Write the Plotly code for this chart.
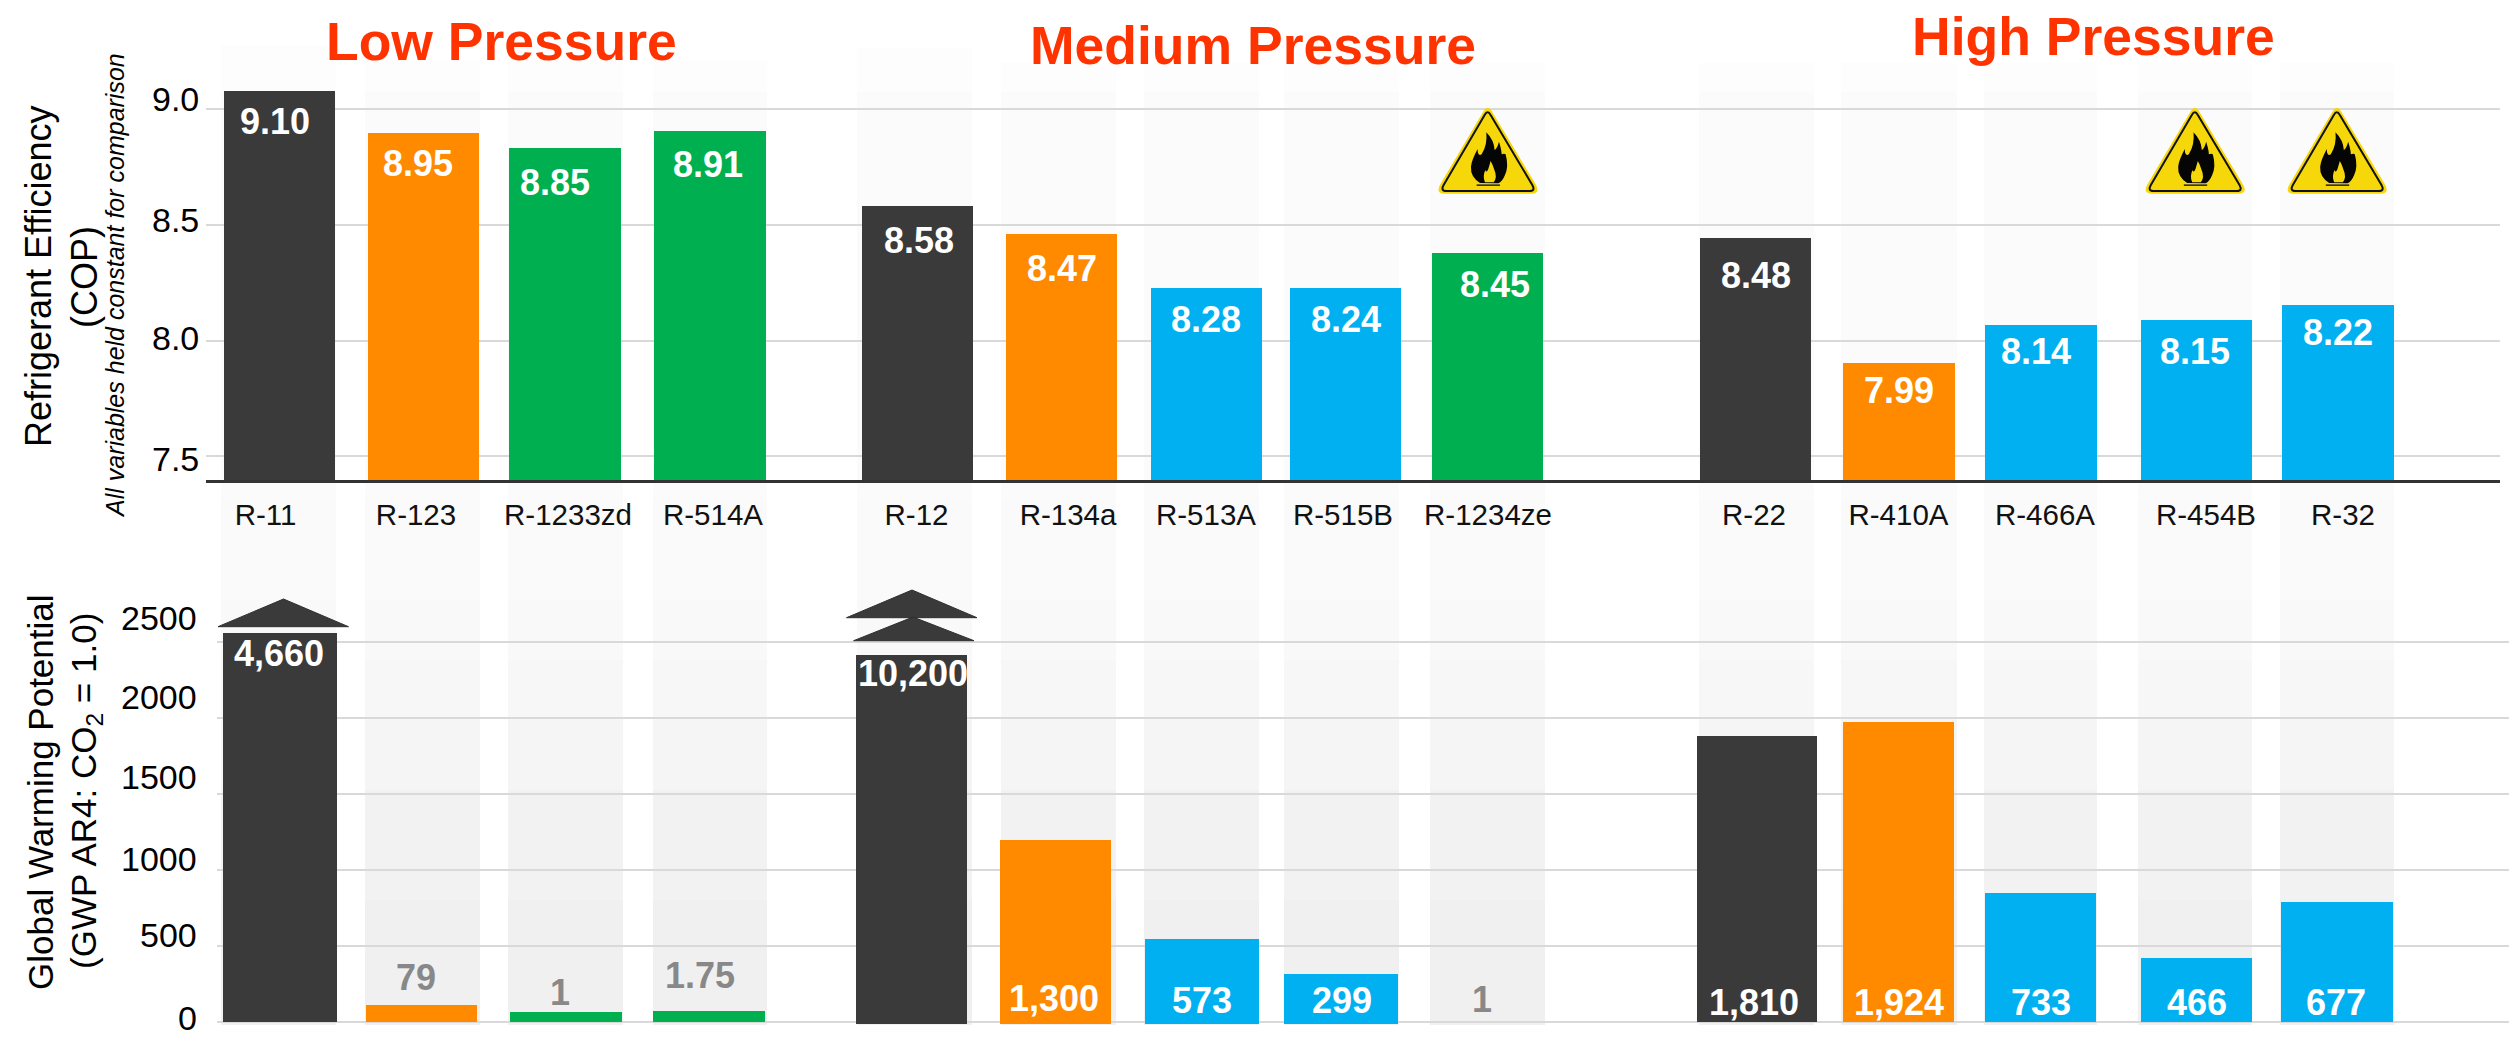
import plotly.graph_objects as go

# ---------- data ----------
refrigerants = ["R-11", "R-123", "R-1233zd", "R-514A", "R-12", "R-134a", "R-513A", "R-515B",
                "R-1234ze", "R-22", "R-410A", "R-466A", "R-454B", "R-32"]
cop_heights = [9.076, 8.895, 8.83, 8.904, 8.58, 8.459, 8.226, 8.226, 8.377, 8.442, 7.903, 8.067, 8.088, 8.153]
cop_labels = ["9.10", "8.95", "8.85", "8.91", "8.58", "8.47", "8.28", "8.24", "8.45", "8.48", "7.99", "8.14", "8.15", "8.22"]
gwp_heights = [2561, 110, 64, 70, 2415, 1197, 545, 314, 0, 1881, 1974, 848, 419, 788]
gwp_labels = ["4,660", "79", "1", "1.75", "10,200", "1,300", "573", "299", "1", "1,810", "1,924", "733", "466", "677"]
cop_ticks = [7.5, 8.0, 8.5, 9.0]
gwp_ticks = [0, 500, 1000, 1500, 2000, 2500]
group_titles = ["Low Pressure", "Medium Pressure", "High Pressure"]

# ---------- styles / layout geometry ----------
W, H = 2509, 1038
FONT = "Liberation Sans"
DARK, ORANGE, GREEN, BLUE = "#3a3a3a", "#ff8a00", "#00b050", "#00b0f0"
RED = "#ff3300"
colors = [DARK, ORANGE, GREEN, GREEN, DARK, ORANGE, BLUE, BLUE, GREEN, DARK, ORANGE, BLUE, BLUE, BLUE]

cop_left = [224, 368, 509, 654, 862, 1006, 1151, 1290, 1432, 1700, 1843, 1985, 2141, 2282]
cop_right = [335, 479, 621, 766, 973, 1117, 1262, 1401, 1543, 1811, 1955, 2097, 2252, 2394]
gwp_left = [223, 366, 510, 653, 856, 1000, 1145, 1284, 1431, 1697, 1843, 1985, 2141, 2281]
gwp_right = [337, 477, 622, 765, 967, 1111, 1259, 1398, 1545, 1817, 1954, 2096, 2252, 2393]
gwp_base = [0, 0, 0, 0, -16, -16, -16, -16, 0, 0, 0, 0, 0, 0]
band_left = [221, 365, 508, 652.5, 857, 1001, 1144, 1284, 1430, 1698.5, 1841, 1983.5, 2137.5, 2279.5]
band_right = [336, 480, 622.5, 767, 972, 1116, 1259, 1399, 1545, 1814, 1956.5, 2097, 2252, 2394]
band_top = [45, 60, 60, 60, 48, 63, 63, 63, 63, 63, 63, 63, 63, 63]
band_bottom = 1025
band_levels = [(0, 92, "#fdfdfd"), (92, 500, "#fbfbfb"), (500, 600, "#fafafa"), (600, 660, "#f9f9f9"),
               (660, 720, "#f7f7f7"), (720, 790, "#f5f5f5"), (790, 900, "#f2f2f2"), (900, band_bottom, "#f0f0f0")]
label_x = [265.6, 416, 568, 713, 916.5, 1068, 1206, 1343, 1488, 1754, 1898.5, 2045, 2206, 2343]

cop_px = [(275, 122), (418, 163), (555, 183), (708, 164), (919, 240), (1062, 268), (1206, 320), (1346, 320),
          (1495, 284), (1756, 275), (1899, 390), (2036, 351), (2195, 351), (2337.5, 332)]
gwp_px = [(279, 653), (416, 977), (560, 992), (700, 975), (913, 673), (1054, 998), (1202, 1000), (1342, 1000),
          (1482, 999), (1754, 1002), (1899, 1002), (2041, 1002), (2197, 1002), (2336, 1002)]
title_px = [(501, 41), (1253, 46), (2093, 37)]
cop_tick_shift = [-3, 3, 5, 10]
gwp_tick_shift = [4, 11, 11, 17, 21, 24]

def cop_at(py):
    return 9 - (py - 108.7) / 231.8

def gwp_at(py):
    return (1021.7 - py) / 75.93 * 500

def center(a, b):
    return [(i + j) / 2 for i, j in zip(a, b)]

def width(a, b):
    return [j - i for i, j in zip(a, b)]

fig = go.Figure()

# background bands (first subplot, so the grid of the later subplots lies over them)
for start, end, col in band_levels:
    bases = [max(start, t) for t in band_top]
    fig.add_trace(go.Bar(x=center(band_left, band_right), width=width(band_left, band_right),
                         base=bases, y=[end - b for b in bases], marker=dict(color=col, line_width=0),
                         xaxis="x", yaxis="y", showlegend=False, hoverinfo="skip"))

fig.add_trace(go.Bar(x=center(cop_left, cop_right), width=width(cop_left, cop_right),
                     y=[v - cop_at(480) for v in cop_heights], base=cop_at(480),
                     marker=dict(color=colors, line_width=0), xaxis="x2", yaxis="y2",
                     showlegend=False, customdata=refrigerants, hovertemplate="%{customdata}<extra></extra>"))
gwp_bottoms = [b if v > 0 else 0 for v, b in zip(gwp_heights, gwp_base)]
fig.add_trace(go.Bar(x=center(gwp_left, gwp_right), width=width(gwp_left, gwp_right),
                     y=[v - b for v, b in zip(gwp_heights, gwp_bottoms)], base=gwp_bottoms,
                     marker=dict(color=colors, line_width=0), xaxis="x3", yaxis="y3",
                     showlegend=False, customdata=refrigerants, hovertemplate="%{customdata}<extra></extra>"))

ann = []

def txt(px, py, s, size, color="#000000", bold=False, italic=False, angle=0):
    t = f"<b>{s}</b>" if bold else s
    t = f"<i>{t}</i>" if italic else t
    ann.append(dict(x=px / W, y=1 - py / H, xref="paper", yref="paper", text=t, showarrow=False,
                    xanchor="center", yanchor="middle", textangle=angle,
                    font=dict(family=FONT, size=size, color=color)))

for (px, py), s in zip(title_px, group_titles):
    txt(px, py, s, 53.5, RED, bold=True)
for (px, py), s in zip(cop_px, cop_labels):
    txt(px, py, s, 36, "#ffffff", bold=True)
for (px, py), s in zip(gwp_px, gwp_labels):
    grey = s in ("79", "1", "1.75")
    txt(px, py, s, 36, "#888888" if grey else "#ffffff", bold=True)

txt(38, 276, "Refrigerant Efficiency", 36, angle=-90)
txt(84, 277, "(COP)", 36, angle=-90)
txt(115, 286, "All variables held constant for comparison", 25, italic=True, angle=-90)
txt(40, 792, "Global Warming Potential", 35, angle=-90)
txt(86, 791, "(GWP AR4: CO<sub>2</sub> = 1.0)", 35, angle=-90)

for v, sh in zip(cop_ticks, cop_tick_shift):
    ann.append(dict(x=201 / W, xref="paper", y=v, yref="y2", yshift=sh, text=f"{v:.1f}", showarrow=False,
                    xanchor="right", yanchor="middle", font=dict(family=FONT, size=34, color="#000000")))
for v, sh in zip(gwp_ticks, gwp_tick_shift):
    ann.append(dict(x=199 / W, xref="paper", y=v, yref="y3", yshift=sh, text=str(v), showarrow=False,
                    xanchor="right", yanchor="middle", font=dict(family=FONT, size=34, color="#000000")))

# ---------- icons and arrows (shapes on the page-sized first subplot) ----------
shapes = []

def poly(pts, fill):
    d = "M" + " L".join(f"{x},{y}" for x, y in pts) + " Z"
    shapes.append(dict(type="path", path=d, xref="x", yref="y", fillcolor=fill,
                       line=dict(color="#2e2e2e", width=1), layer="above"))

poly([(218, 626.7), (283.5, 599), (348.5, 626.7)], DARK)
poly([(846.5, 617.7), (912, 590), (977, 617.7)], DARK)
poly([(853.6, 640.7), (913, 617), (974, 640.7)], DARK)

OUTER = [("M", 176, 48), ("Q", 188, 28, 200, 48), ("L", 332, 268), ("Q", 348, 296, 318, 296),
         ("L", 60, 296), ("Q", 30, 296, 46, 268), ("Z",)]
INNER = [("M", 179, 60), ("Q", 188, 44, 197, 60), ("L", 322, 270), ("Q", 332, 288, 314, 288),
         ("L", 64, 288), ("Q", 46, 288, 56, 270), ("Z",)]
FLAME = [("M", 165, 264), ("Q", 136, 245, 138, 215), ("Q", 140, 195, 158, 162), ("Q", 158, 185, 170, 178),
         ("Q", 188, 150, 184, 112), ("Q", 207, 135, 209, 165), ("Q", 217, 160, 222, 140), ("Q", 230, 165, 230, 178),
         ("Q", 238, 175, 242, 178), ("Q", 252, 215, 240, 240), ("Q", 232, 260, 220, 265), ("Z",)]
CORE = [("M", 180, 262), ("Q", 172, 245, 181, 225), ("Q", 184, 236, 190, 222), ("Q", 193, 212, 197, 198),
        ("Q", 204, 210, 208, 224), ("Q", 218, 246, 206, 262), ("Z",)]
BAR = [("M", 155, 268), ("L", 225, 268), ("L", 225, 273), ("L", 155, 273), ("Z",)]

def icon_path(cmds, cx):
    out = []
    for c in cmds:
        vals = c[1:]
        pts = [f"{cx + (vals[i] - 190) / 3:.2f},{95 + vals[i + 1] / 3:.2f}" for i in range(0, len(vals), 2)]
        out.append(c[0] + " ".join(pts))
    return " ".join(out)

for name in ("R-1234ze", "R-454B", "R-32"):
    cx = {"R-1234ze": 1488.3, "R-454B": 2195.5, "R-32": 2337.5}[name]
    shapes.append(dict(type="path", path=icon_path(OUTER, cx), xref="x", yref="y", fillcolor="#f6d70a",
                       line=dict(width=0), layer="above"))
    shapes.append(dict(type="path", path=icon_path(INNER, cx), xref="x", yref="y", fillcolor="#f6d70a",
                       line=dict(color="#111111", width=2), layer="above"))
    shapes.append(dict(type="path", path=icon_path(FLAME, cx), xref="x", yref="y", fillcolor="#050505",
                       line=dict(width=0), layer="above"))
    shapes.append(dict(type="path", path=icon_path(CORE, cx), xref="x", yref="y", fillcolor="#f6d70a",
                       line=dict(width=0), layer="above"))
    shapes.append(dict(type="path", path=icon_path(BAR, cx), xref="x", yref="y", fillcolor="#333333",
                       line=dict(width=0), layer="above"))

GRID = "#d9d9d9"
fig.update_layout(
    width=W, height=H, margin=dict(l=0, r=0, t=0, b=0), paper_bgcolor="#ffffff", plot_bgcolor="rgba(0,0,0,0)",
    barmode="overlay", bargap=0, showlegend=False, annotations=ann, shapes=shapes,
    xaxis=dict(domain=[0, 1], range=[0, W], visible=False),
    yaxis=dict(domain=[0, 1], range=[H, 0], visible=False),
    xaxis2=dict(domain=[206 / W, 2500 / W], range=[206, 2500], anchor="y2", showgrid=False, zeroline=False,
                showline=True, linecolor="#333333", linewidth=3, tickmode="array", tickvals=label_x,
                ticktext=refrigerants, ticks="outside", ticklen=7, tickcolor="rgba(0,0,0,0)",
                tickfont=dict(family=FONT, size=29.5, color="#111111")),
    yaxis2=dict(domain=[(H - 480) / H, (H - 40) / H], range=[cop_at(480), cop_at(40)], anchor="x2",
                tickmode="array", tickvals=cop_ticks, showticklabels=False, gridcolor=GRID, gridwidth=2,
                zeroline=False, ticks=""),
    xaxis3=dict(domain=[217 / W, 1], range=[217, W], anchor="y3", showgrid=False, zeroline=False,
                showticklabels=False, ticks=""),
    yaxis3=dict(domain=[(H - 1026) / H, (H - 585) / H], range=[gwp_at(1026), gwp_at(585)], anchor="x3",
                tickmode="array", tickvals=gwp_ticks, showticklabels=False, gridcolor=GRID, gridwidth=2,
                zeroline=False, ticks=""),
)

fig.write_html("out.html", config=dict(displayModeBar=False),
               post_script="document.body.style.margin='0';document.documentElement.style.overflow='hidden';")
